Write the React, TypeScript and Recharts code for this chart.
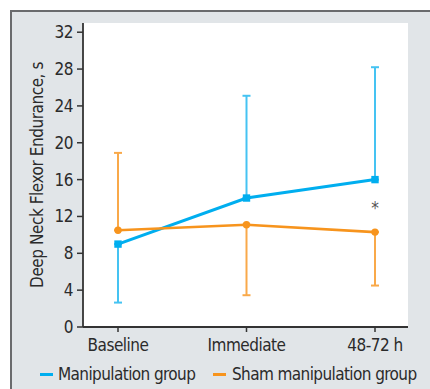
import React from 'react';
import {
  LineChart,
  Line,
  XAxis,
  YAxis,
  ErrorBar,
  CartesianGrid,
  ReferenceDot,
} from 'recharts';

const categories = ['Baseline', 'Immediate', '48-72 h'];
const manipulation = [9.0, 14.0, 16.0];
const manipulationLow = [2.65, 14.0, 16.0];
const manipulationHigh = [9.0, 25.1, 28.2];
const sham = [10.5, 11.1, 10.3];
const shamLow = [10.5, 3.45, 4.5];
const shamHigh = [18.9, 11.1, 10.3];
const yTicks = [0, 4, 8, 12, 16, 20, 24, 28, 32];

const FONT = '"Liberation Sans Narrow", "DejaVu Sans Condensed", "Roboto Condensed", Roboto, sans-serif';
const TEXT = '#2b2b2b';
const BLUE = '#00aeef';
const BLUE_ERR = '#45c3f2';
const ORANGE = '#f7941d';
const ORANGE_ERR = '#f9a94a';

const data = categories.map((c, i) => ({
  name: c,
  manipulation: manipulation[i],
  manipulationErr: [manipulation[i] - manipulationLow[i], manipulationHigh[i] - manipulation[i]],
  sham: sham[i],
  shamErr: [sham[i] - shamLow[i], shamHigh[i] - sham[i]],
}));

const SquareDot = (props: any) => {
  const { cx, cy } = props;
  if (cx == null || cy == null) return null;
  return <rect x={cx - 3.7} y={cy - 3.7} width={7.4} height={7.4} fill={BLUE} />;
};

const YLabel = () => {
  const x = 37;
  const y = 175;
  return (
    <text
      x={x}
      y={y}
      transform={`rotate(-90 ${x} ${y})`}
      textAnchor="middle"
      dominantBaseline="central"
      fill={TEXT}
      fontSize={17}
      fontFamily={FONT}
      style={{ letterSpacing: '-0.45px' }}
    >
      Deep Neck Flexor Endurance, s
    </text>
  );
};

export default function App() {
  const tick = { fontSize: 17, fill: TEXT, fontFamily: FONT, letterSpacing: -0.5 };
  return (
    <div style={{ position: 'absolute', left: 0, top: 0, width: 430, height: 389, overflow: 'hidden' }}>
      <div
        style={{
          position: 'absolute',
          left: 10,
          top: 10,
          right: 0,
          bottom: -10,
          background: '#e1e5e8',
          borderTop: '2px solid #6a6b6d',
          borderLeft: '2px solid #6a6b6d',
        }}
      />
      <div style={{ position: 'absolute', left: 0, top: 0 }}>
        <LineChart width={430} height={389} data={data} margin={{ top: 23, right: 22, bottom: 32, left: 0 }}>
          <CartesianGrid horizontal={false} vertical={false} fill="#ffffff" />
          <XAxis
            dataKey="name"
            padding={{ left: 35, right: 33 }}
            tick={tick}
            tickSize={5}
            tickMargin={7}
            height={30}
            stroke="#333"
            axisLine={{ stroke: '#333', strokeWidth: 1.8 }}
            tickLine={{ stroke: '#333', strokeWidth: 1.5 }}
          />
          <XAxis
            xAxisId="top"
            dataKey="name"
            orientation="top"
            height={0}
            tick={false}
            tickLine={false}
            axisLine={{ stroke: '#6d6d6d', strokeWidth: 1 }}
          />
          <YAxis
            domain={[0, 33]}
            ticks={yTicks}
            width={83}
            tick={tick}
            tickSize={6}
            tickMargin={4}
            axisLine={{ stroke: '#333', strokeWidth: 1.8 }}
            tickLine={{ stroke: '#333', strokeWidth: 1.5 }}
            label={{ content: <YLabel /> }}
          />
          <YAxis
            yAxisId="right"
            orientation="right"
            width={0}
            tick={false}
            tickLine={false}
            axisLine={{ stroke: '#6d6d6d', strokeWidth: 1 }}
          />
          <Line
            dataKey="manipulation"
            stroke={BLUE}
            strokeWidth={3}
            dot={<SquareDot />}
            activeDot={false}
            isAnimationActive={false}
          >
            <ErrorBar dataKey="manipulationErr" stroke={BLUE_ERR} strokeWidth={2} width={4} />
          </Line>
          <Line
            dataKey="sham"
            stroke={ORANGE}
            strokeWidth={2.6}
            dot={{ r: 3.7, fill: ORANGE, stroke: 'none' }}
            activeDot={false}
            isAnimationActive={false}
          >
            <ErrorBar dataKey="shamErr" stroke={ORANGE_ERR} strokeWidth={2} width={4} />
          </Line>
          <ReferenceDot
            x="48-72 h"
            y={12.9}
            r={0}
            fill="none"
            stroke="none"
            label={{ value: '*', position: 'center', fill: '#555', fontSize: 17, fontFamily: FONT }}
          />
        </LineChart>
      </div>
      <div
        style={{
          position: 'absolute',
          left: 40,
          top: 363,
          display: 'flex',
          alignItems: 'center',
          fontFamily: FONT,
          fontSize: 17,
          color: TEXT,
          lineHeight: '22px',
          whiteSpace: 'nowrap',
          letterSpacing: '-0.6px',
        }}
      >
        <span style={{ display: 'inline-block', width: 13, height: 3, background: BLUE, marginRight: 5 }} />
        <span style={{ display: 'inline-block', width: 155 }}>Manipulation group</span>
        <span style={{ display: 'inline-block', width: 13, height: 3, background: ORANGE, marginRight: 6 }} />
        <span>Sham manipulation group</span>
      </div>
    </div>
  );
}
